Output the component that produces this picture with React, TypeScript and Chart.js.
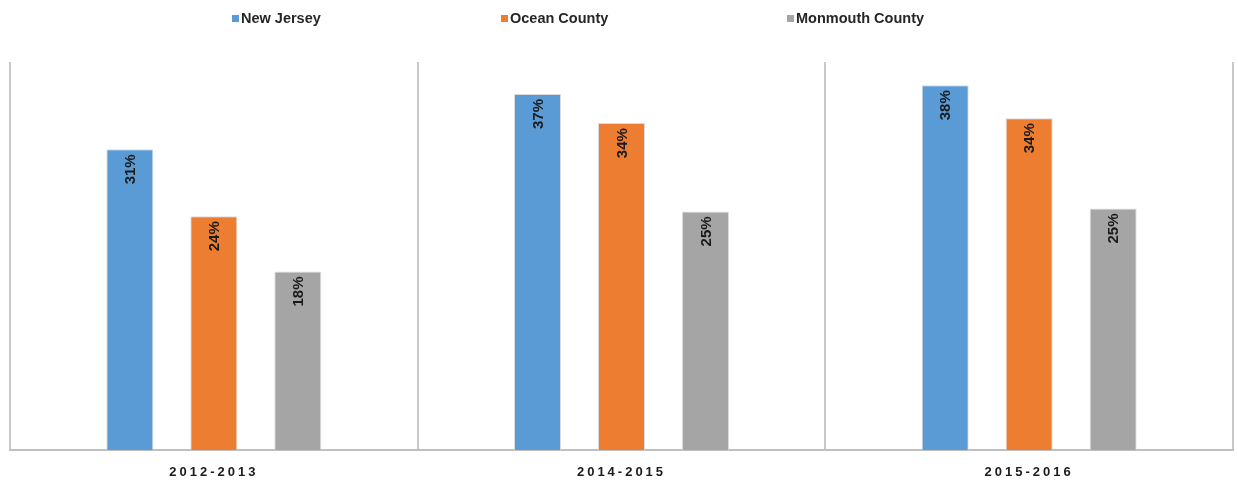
import React, { useEffect, useRef } from "react";
import { Chart, registerables, CategoryScale } from "chart.js";

class SpacedCategoryScale extends CategoryScale {
  static id = "spacedCategory";
  static defaults = CategoryScale.defaults;
  drawLabels(area: any) {
    const ctx = this.ctx as any;
    ctx.save();
    ctx.letterSpacing = "3px";
    super.drawLabels(area);
    ctx.restore();
  }
}

Chart.register(...registerables, SpacedCategoryScale as any);

const categories = ["2012-2013", "2014-2015", "2015-2016"];
const seriesNames = ["New Jersey", "Ocean County", "Monmouth County"];
const newJersey = [31.0, 36.7, 37.6];
const oceanCounty = [24.1, 33.7, 34.2];
const monmouthCounty = [18.4, 24.6, 24.9];
const seriesColors = ["#5b9bd5", "#ed7d31", "#a5a5a5"];

const FONT = '"Liberation Sans", Arial, sans-serif';

const barLabels = {
  id: "barLabels",
  afterDatasetsDraw(chart: any) {
    const ctx = chart.ctx;
    ctx.save();
    ctx.font = `bold 15px ${FONT}`;
    ctx.fillStyle = "#1a1a1a";
    chart.data.datasets.forEach((ds: any, i: number) => {
      const meta = chart.getDatasetMeta(i);
      meta.data.forEach((bar: any, j: number) => {
        const v = ds.data[j];
        ctx.save();
        ctx.translate(bar.x + 1, bar.y + 5);
        ctx.rotate(-Math.PI / 2);
        ctx.textAlign = "right";
        ctx.textBaseline = "middle";
        ctx.fillText(Math.round(v) + "%", 0, 0);
        ctx.restore();
      });
    });
    ctx.restore();
  },
};

const legendLeft = [232, 501, 787];

export default function App() {
  const ref = useRef<HTMLCanvasElement>(null);
  useEffect(() => {
    if (!ref.current) return;
    const data = [newJersey, oceanCounty, monmouthCounty];
    const chart = new Chart(ref.current, {
      type: "bar",
      data: {
        labels: categories,
        datasets: seriesNames.map((name, i) => ({
          label: name,
          data: data[i],
          backgroundColor: seriesColors[i],
          borderColor: "rgba(215,215,215,0.9)",
          borderWidth: 1,
          categoryPercentage: 0.618,
          barPercentage: 0.56,
        })),
      },
      options: {
        responsive: false,
        animation: false,
        layout: { padding: { left: 10, right: 5, top: 62, bottom: 0 } },
        plugins: {
          legend: { display: false },
          tooltip: { enabled: false },
        },
        scales: {
          x: {
            type: "spacedCategory" as any,
            offset: true,
            grid: {
              offset: true,
              color: "#c8c8c8",
              lineWidth: 2,
              drawTicks: false,
            },
            border: { display: true, color: "#c0c0c0", width: 2 },
            ticks: {
              font: { family: FONT, size: 13, weight: "bold" },
              color: "#1a1a1a",
              padding: 15,
            },
            afterFit: (s: any) => {
              s.height = 31;
            },
          } as any,
          y: {
            display: false,
            min: 0,
            max: 40,
          },
        },
      },
      plugins: [barLabels],
    });
    return () => chart.destroy();
  }, []);

  return (
    <div
      style={{
        position: "fixed",
        left: 0,
        top: 0,
        width: 1238,
        height: 481,
        background: "#ffffff",
      }}
    >
      {seriesNames.map((name, i) => (
        <div
          key={name}
          style={{
            position: "absolute",
            left: legendLeft[i],
            top: 9,
            height: 18,
            display: "flex",
            alignItems: "center",
            fontFamily: FONT,
            fontWeight: "bold",
            fontSize: 14.5,
            color: "#262626",
            whiteSpace: "nowrap",
          }}
        >
          <span
            style={{
              display: "inline-block",
              width: 7,
              height: 7,
              background: seriesColors[i],
              marginRight: 2,
            }}
          />
          {name}
        </div>
      ))}
      <canvas ref={ref} width={1238} height={481} style={{ display: "block" }} />
    </div>
  );
}
